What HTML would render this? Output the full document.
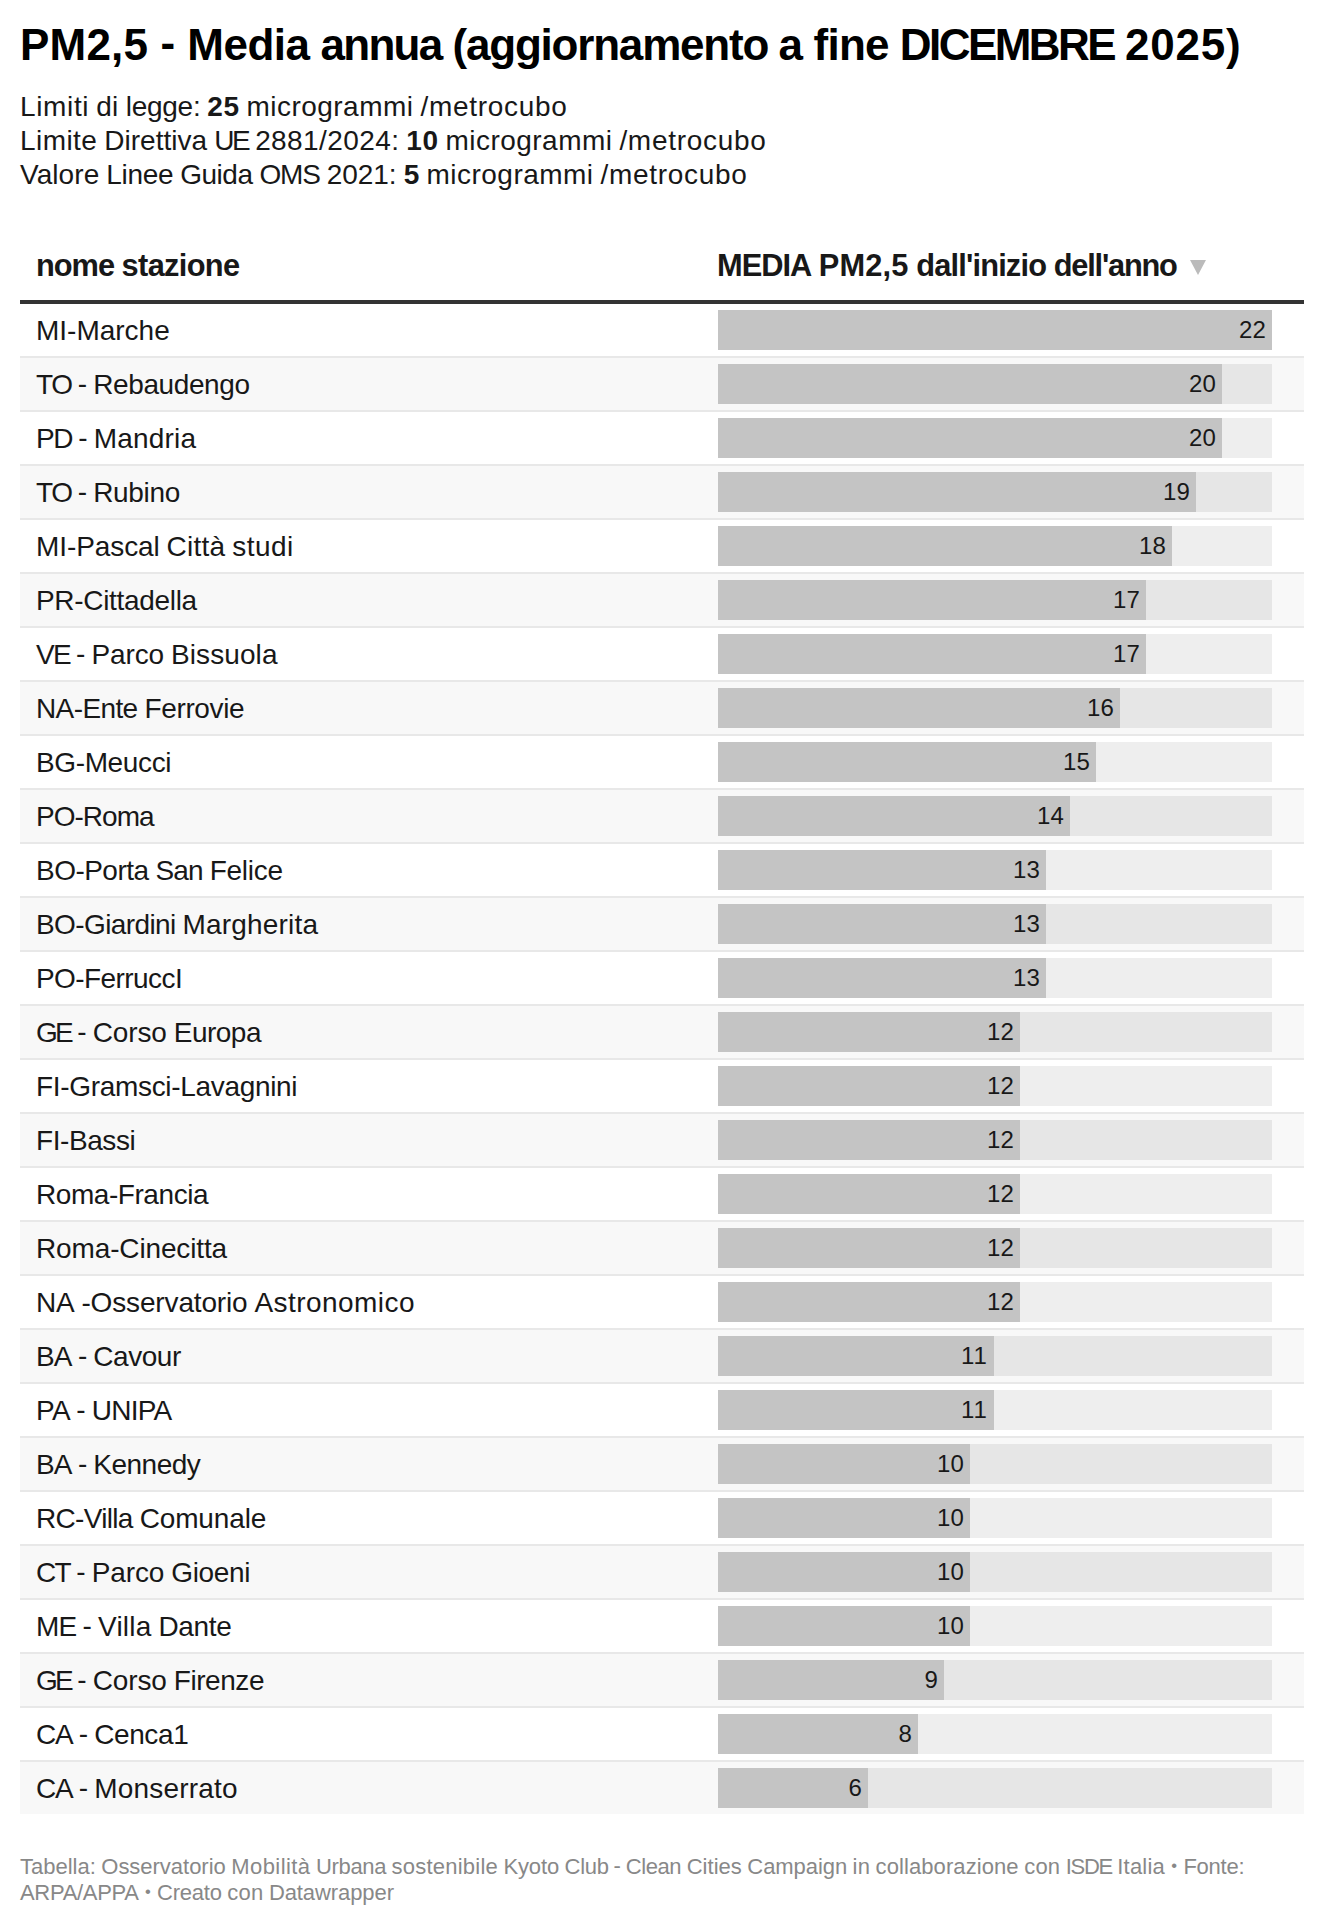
<!DOCTYPE html>
<html lang="it"><head><meta charset="utf-8"><title>PM2,5 - Media annua</title>
<style>
html,body{margin:0;padding:0;background:#fff;}
body{width:1324px;height:1926px;position:relative;overflow:hidden;font-family:"Liberation Sans", sans-serif;color:#181818;-webkit-font-smoothing:antialiased;}
.t{white-space:nowrap;display:inline-block;word-spacing:-0.0303em;}
h1{position:absolute;left:20px;top:18.0px;margin:0;font-size:44.00px;line-height:53px;font-weight:700;color:#000;white-space:nowrap;}
.desc{position:absolute;left:20px;top:90.4px;font-size:28.00px;line-height:33.75px;color:#181818;white-space:nowrap;}
.desc div{height:33.75px;}
.tbl{position:absolute;left:20px;top:232px;width:1284px;}
.hd{height:68px;border-bottom:4px solid #333;position:relative;font-weight:700;font-size:30.80px;line-height:71px;color:#181818;}
.hd .c1{position:absolute;left:16px;top:-1.9px;}
.hd .c2{position:absolute;left:697px;top:-1.9px;}
.hd .arr{position:absolute;left:1170px;top:28px;width:0;height:0;border-left:8px solid transparent;border-right:8px solid transparent;border-top:15.5px solid #bbb;}
.r{height:52px;border-bottom:2px solid #e8e8e8;position:relative;font-size:28.00px;line-height:52px;}
.r:nth-child(odd){background:#f8f8f8;}
.r:last-child{border-bottom:none;}
.r .n{position:absolute;left:16px;top:0.8px;}
.r .bg{position:absolute;left:698px;top:6px;width:554px;height:40px;background:#e6e6e6;}
.r:nth-child(even) .bg{background:#eee;}
.r .b{position:absolute;left:0;top:0;height:40px;background:#c4c4c4;text-align:right;font-size:24.00px;line-height:40px;}
.r .b span{margin-right:6px;}
.ft{position:absolute;left:20px;top:1853.5px;font-size:22.00px;line-height:26.4px;color:#888;white-space:nowrap;}
.ft div{height:26.4px;}
</style></head><body>
<h1><span class="t" id="ti"><span style="letter-spacing:0.21px">PM2,5</span> <span style="margin:0 1.34px;position:relative;top:-.04em">-</span> <span style="letter-spacing:-0.49px">Media</span> <span style="letter-spacing:-1.70px">annua</span> <span style="letter-spacing:-1.20px">(aggiornamento</span> <span style="margin:0 -0.47px">a</span> <span style="letter-spacing:-0.74px">fine</span> <span style="letter-spacing:-2.52px">DICEMBRE</span> <span style="letter-spacing:0.78px">2025)</span></span></h1>
<div class="desc">
<div><span class="t" id="d1"><span style="letter-spacing:0.64px">Limiti</span> <span style="letter-spacing:0.41px">di</span> <span style="letter-spacing:-0.26px">legge:</span> <b style="letter-spacing:0.49px">25</b> <span style="letter-spacing:0.48px">microgrammi</span> <span style="letter-spacing:0.70px">/metrocubo</span></span></div>
<div><span class="t" id="d2"><span style="letter-spacing:0.43px">Limite</span> <span style="letter-spacing:0.03px">Direttiva</span> <span style="letter-spacing:-2.41px">UE</span> <span style="letter-spacing:0.41px">2881/2024:</span> <b style="letter-spacing:0.49px">10</b> <span style="letter-spacing:0.48px">microgrammi</span> <span style="letter-spacing:0.70px">/metrocubo</span></span></div>
<div><span class="t" id="d3"><span style="letter-spacing:0.07px">Valore</span> <span style="letter-spacing:-0.29px">Linee</span> <span style="letter-spacing:-0.48px">Guida</span> <span style="letter-spacing:-1.15px">OMS</span> <span style="letter-spacing:-0.06px">2021:</span> <b style="margin:0 0.25px">5</b> <span style="letter-spacing:0.48px">microgrammi</span> <span style="letter-spacing:0.70px">/metrocubo</span></span></div>
</div>
<div class="tbl">
<div class="hd"><span class="t c1" id="h1"><span style="letter-spacing:-1.04px">nome</span> <span style="letter-spacing:-0.67px">stazione</span></span><span class="t c2" id="h2"><span style="letter-spacing:-1.00px">MEDIA</span> <span style="letter-spacing:0.14px">PM2,5</span> <span style="letter-spacing:-0.83px">dall'inizio</span> <span style="letter-spacing:-1.23px">dell'anno</span></span><i class="arr"></i></div>
<div class="r"><span class="t n" id="n0" style="letter-spacing:-0.01px">MI-Marche</span><div class="bg"><div class="b" style="width:554px"><span class="t" id="v0" style="letter-spacing:0.14px">22</span></div></div></div>
<div class="r"><span class="t n" id="n1"><span style="letter-spacing:-1.40px">TO</span> <span style="margin:0 -0.79px;position:relative;top:-.04em">-</span> <span style="letter-spacing:-0.40px">Rebaudengo</span></span><div class="bg"><div class="b" style="width:504px"><span class="t" id="v1" style="letter-spacing:0.14px">20</span></div></div></div>
<div class="r"><span class="t n" id="n2"><span style="letter-spacing:-1.43px">PD</span> <span style="margin:0 -0.79px;position:relative;top:-.04em">-</span> <span style="letter-spacing:0.19px">Mandria</span></span><div class="bg"><div class="b" style="width:504px"><span class="t" id="v2" style="letter-spacing:0.14px">20</span></div></div></div>
<div class="r"><span class="t n" id="n3"><span style="letter-spacing:-1.40px">TO</span> <span style="margin:0 -0.79px;position:relative;top:-.04em">-</span> <span style="letter-spacing:-0.35px">Rubino</span></span><div class="bg"><div class="b" style="width:478px"><span class="t" id="v3" style="letter-spacing:0.14px">19</span></div></div></div>
<div class="r"><span class="t n" id="n4"><span style="letter-spacing:-0.09px">MI-Pascal</span> <span style="letter-spacing:0.20px">Città</span> <span style="letter-spacing:0.50px">studi</span></span><div class="bg"><div class="b" style="width:454px"><span class="t" id="v4" style="letter-spacing:0.14px">18</span></div></div></div>
<div class="r"><span class="t n" id="n5" style="letter-spacing:-0.32px">PR-Cittadella</span><div class="bg"><div class="b" style="width:428px"><span class="t" id="v5" style="letter-spacing:0.14px">17</span></div></div></div>
<div class="r"><span class="t n" id="n6"><span style="letter-spacing:-1.80px">VE</span> <span style="margin:0 -0.79px;position:relative;top:-.04em">-</span> <span style="letter-spacing:-0.11px">Parco</span> <span style="letter-spacing:0.10px">Bissuola</span></span><div class="bg"><div class="b" style="width:428px"><span class="t" id="v6" style="letter-spacing:0.14px">17</span></div></div></div>
<div class="r"><span class="t n" id="n7"><span style="letter-spacing:-0.61px">NA-Ente</span> <span style="letter-spacing:-0.37px">Ferrovie</span></span><div class="bg"><div class="b" style="width:402px"><span class="t" id="v7" style="letter-spacing:0.14px">16</span></div></div></div>
<div class="r"><span class="t n" id="n8" style="letter-spacing:-0.37px">BG-Meucci</span><div class="bg"><div class="b" style="width:378px"><span class="t" id="v8" style="letter-spacing:0.14px">15</span></div></div></div>
<div class="r"><span class="t n" id="n9" style="letter-spacing:-0.97px">PO-Roma</span><div class="bg"><div class="b" style="width:352px"><span class="t" id="v9" style="letter-spacing:0.14px">14</span></div></div></div>
<div class="r"><span class="t n" id="n10"><span style="letter-spacing:-0.53px">BO-Porta</span> <span style="letter-spacing:-0.83px">San</span> <span style="letter-spacing:-0.26px">Felice</span></span><div class="bg"><div class="b" style="width:328px"><span class="t" id="v10" style="letter-spacing:0.14px">13</span></div></div></div>
<div class="r"><span class="t n" id="n11"><span style="letter-spacing:-0.60px">BO-Giardini</span> <span style="letter-spacing:0.17px">Margherita</span></span><div class="bg"><div class="b" style="width:328px"><span class="t" id="v11" style="letter-spacing:0.14px">13</span></div></div></div>
<div class="r"><span class="t n" id="n12" style="letter-spacing:-0.58px">PO-FerruccI</span><div class="bg"><div class="b" style="width:328px"><span class="t" id="v12" style="letter-spacing:0.14px">13</span></div></div></div>
<div class="r"><span class="t n" id="n13"><span style="letter-spacing:-2.73px">GE</span> <span style="margin:0 -0.79px;position:relative;top:-.04em">-</span> <span style="letter-spacing:-0.11px">Corso</span> <span style="letter-spacing:-0.51px">Europa</span></span><div class="bg"><div class="b" style="width:302px"><span class="t" id="v13" style="letter-spacing:0.14px">12</span></div></div></div>
<div class="r"><span class="t n" id="n14" style="letter-spacing:-0.32px">FI-Gramsci-Lavagnini</span><div class="bg"><div class="b" style="width:302px"><span class="t" id="v14" style="letter-spacing:0.14px">12</span></div></div></div>
<div class="r"><span class="t n" id="n15" style="letter-spacing:-0.43px">FI-Bassi</span><div class="bg"><div class="b" style="width:302px"><span class="t" id="v15" style="letter-spacing:0.14px">12</span></div></div></div>
<div class="r"><span class="t n" id="n16" style="letter-spacing:-0.44px">Roma-Francia</span><div class="bg"><div class="b" style="width:302px"><span class="t" id="v16" style="letter-spacing:0.14px">12</span></div></div></div>
<div class="r"><span class="t n" id="n17" style="letter-spacing:-0.14px">Roma-Cinecitta</span><div class="bg"><div class="b" style="width:302px"><span class="t" id="v17" style="letter-spacing:0.14px">12</span></div></div></div>
<div class="r"><span class="t n" id="n18"><span style="letter-spacing:-0.20px">NA</span> <span style="letter-spacing:-0.15px">-Osservatorio</span> <span style="letter-spacing:0.44px">Astronomico</span></span><div class="bg"><div class="b" style="width:302px"><span class="t" id="v18" style="letter-spacing:0.14px">12</span></div></div></div>
<div class="r"><span class="t n" id="n19"><span style="letter-spacing:-0.82px">BA</span> <span style="margin:0 -0.79px;position:relative;top:-.04em">-</span> <span style="letter-spacing:-0.47px">Cavour</span></span><div class="bg"><div class="b" style="width:276px"><span class="t" id="v19" style="letter-spacing:1.03px">11</span></div></div></div>
<div class="r"><span class="t n" id="n20"><span style="letter-spacing:-0.62px">PA</span> <span style="margin:0 -0.79px;position:relative;top:-.04em">-</span> <span style="letter-spacing:-0.74px">UNIPA</span></span><div class="bg"><div class="b" style="width:276px"><span class="t" id="v20" style="letter-spacing:1.03px">11</span></div></div></div>
<div class="r"><span class="t n" id="n21"><span style="letter-spacing:-0.82px">BA</span> <span style="margin:0 -0.79px;position:relative;top:-.04em">-</span> <span style="letter-spacing:-0.52px">Kennedy</span></span><div class="bg"><div class="b" style="width:252px"><span class="t" id="v21" style="letter-spacing:0.14px">10</span></div></div></div>
<div class="r"><span class="t n" id="n22"><span style="letter-spacing:-0.68px">RC-Villa</span> <span style="letter-spacing:-0.14px">Comunale</span></span><div class="bg"><div class="b" style="width:252px"><span class="t" id="v22" style="letter-spacing:0.14px">10</span></div></div></div>
<div class="r"><span class="t n" id="n23"><span style="letter-spacing:-1.66px">CT</span> <span style="margin:0 -0.79px;position:relative;top:-.04em">-</span> <span style="letter-spacing:-0.11px">Parco</span> <span style="letter-spacing:-0.33px">Gioeni</span></span><div class="bg"><div class="b" style="width:252px"><span class="t" id="v23" style="letter-spacing:0.14px">10</span></div></div></div>
<div class="r"><span class="t n" id="n24"><span style="letter-spacing:-0.82px">ME</span> <span style="margin:0 -0.79px;position:relative;top:-.04em">-</span> <span style="letter-spacing:0.21px">Villa</span> <span style="letter-spacing:-0.33px">Dante</span></span><div class="bg"><div class="b" style="width:252px"><span class="t" id="v24" style="letter-spacing:0.14px">10</span></div></div></div>
<div class="r"><span class="t n" id="n25"><span style="letter-spacing:-2.73px">GE</span> <span style="margin:0 -0.79px;position:relative;top:-.04em">-</span> <span style="letter-spacing:-0.11px">Corso</span> <span style="letter-spacing:-0.43px">Firenze</span></span><div class="bg"><div class="b" style="width:226px"><span class="t" id="v25" style="letter-spacing:0.14px">9</span></div></div></div>
<div class="r"><span class="t n" id="n26"><span style="letter-spacing:-1.20px">CA</span> <span style="margin:0 -0.79px;position:relative;top:-.04em">-</span> <span style="letter-spacing:-0.39px">Cenca1</span></span><div class="bg"><div class="b" style="width:200px"><span class="t" id="v26" style="letter-spacing:0.14px">8</span></div></div></div>
<div class="r"><span class="t n" id="n27"><span style="letter-spacing:-1.20px">CA</span> <span style="margin:0 -0.79px;position:relative;top:-.04em">-</span> <span style="letter-spacing:0.20px">Monserrato</span></span><div class="bg"><div class="b" style="width:150px"><span class="t" id="v27" style="letter-spacing:0.14px">6</span></div></div></div>
</div>
<div class="ft">
<div><span class="t" id="f1"><span style="letter-spacing:0.00px">Tabella:</span> <span style="letter-spacing:-0.02px">Osservatorio</span> <span style="letter-spacing:0.44px">Mobilità</span> <span style="letter-spacing:-0.34px">Urbana</span> <span style="letter-spacing:0.22px">sostenibile</span> <span style="letter-spacing:-0.11px">Kyoto</span> <span style="letter-spacing:-0.27px">Club</span> <span style="margin:0 -0.62px;position:relative;top:-.04em">-</span> <span style="letter-spacing:-0.41px">Clean</span> <span style="letter-spacing:0.03px">Cities</span> <span style="letter-spacing:-0.06px">Campaign</span> <span style="letter-spacing:0.19px">in</span> <span style="letter-spacing:0.09px">collaborazione</span> <span style="letter-spacing:0.24px">con</span> <span style="letter-spacing:-1.34px">ISDE</span> <span style="letter-spacing:0.22px">Italia</span> <span style="margin:0 0.83px;font-size:.75em;position:relative;top:-.16em">•</span> <span style="letter-spacing:-0.25px">Fonte:</span></span></div>
<div><span class="t" id="f2"><span style="letter-spacing:-0.31px">ARPA/APPA</span> <span style="margin:0 0.83px;font-size:.75em;position:relative;top:-.16em">•</span> <span style="letter-spacing:-0.21px">Creato</span> <span style="letter-spacing:0.24px">con</span> <span style="letter-spacing:-0.09px">Datawrapper</span></span></div>
</div>
</body></html>
